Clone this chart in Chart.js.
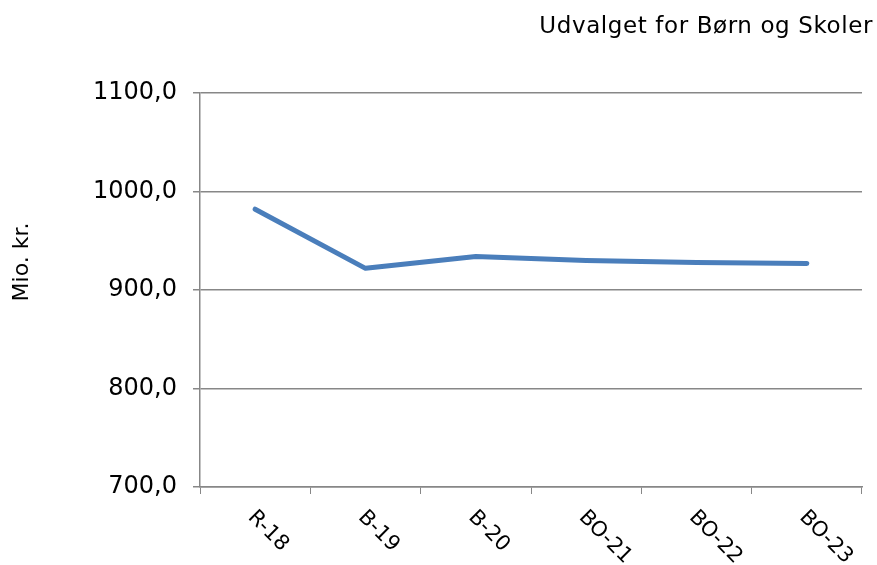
<!DOCTYPE html>
<html>
<head>
<meta charset="utf-8">
<script src="https://cdn.jsdelivr.net/npm/chart.js@4"></script>
<style>
  html, body { margin: 0; padding: 0; background: #fff; }
  #wrap { width: 877px; height: 565px; }
</style>
</head>
<body>
<div id="wrap"><canvas id="grafico" width="877" height="565"></canvas></div>
<script>
// data
const kategorier = ['R-18', 'B-19', 'B-20', 'BO-21', 'BO-22', 'BO-23'];
const udgifter = [982, 922, 934, 930, 928, 927];
const yTicks = [700, 800, 900, 1000, 1100];
const titel = 'Udvalget for Børn og Skoler';
const yTitel = 'Mio. kr.';

const font = 'DejaVu Sans, Verdana, sans-serif';
const grid = '#878787';

// title top right, y title and rotated x labels
const tegnTekst = {
  id: 'tegnTekst',
  afterDraw(chart) {
    const ctx = chart.ctx;
    const x = chart.scales.x;
    ctx.save();
    ctx.fillStyle = '#000';
    ctx.textBaseline = 'alphabetic';

    ctx.font = '23px ' + font;
    ctx.letterSpacing = '0.6px';
    ctx.textAlign = 'right';
    ctx.fillText(titel, chart.width - 4, 33);
    ctx.letterSpacing = '0px';

    ctx.save();
    ctx.font = '22px ' + font;
    ctx.textAlign = 'center';
    ctx.translate(28, 262);
    ctx.rotate(-Math.PI / 2);
    ctx.fillText(yTitel, 0, 0);
    ctx.restore();

    ctx.font = '21px ' + font;
    ctx.textAlign = 'left';
    kategorier.forEach((k, i) => {
      const px = x.getPixelForValue(i);
      ctx.save();
      ctx.translate(px - 8, x.top + 31);
      ctx.rotate(Math.PI / 4);
      ctx.fillText(k, 0, 0);
      ctx.restore();
    });
    ctx.restore();
  }
};

new Chart(document.getElementById('grafico').getContext('2d'), {
  type: 'line',
  data: {
    labels: kategorier,
    datasets: [{
      label: titel,
      data: udgifter,
      borderColor: '#4A7EBB',
      borderWidth: 5,
      borderCapStyle: 'round',
      borderJoinStyle: 'round',
      pointRadius: 0,
      tension: 0,
      fill: false
    }]
  },
  options: {
    responsive: false,
    animation: false,
    layout: { padding: { top: 93, right: 15, bottom: 0, left: 0 } },
    plugins: {
      legend: { display: false },
      title: { display: false },
      tooltip: { enabled: false }
    },
    scales: {
      x: {
        offset: true,
        grid: { offset: true, drawOnChartArea: false, color: grid, tickLength: 7 },
        border: { color: grid, width: 1.5 },
        ticks: { display: false },
        afterFit(s) { s.height = 78; }
      },
      y: {
        min: 700,
        max: 1100,
        afterBuildTicks(s) { s.ticks = yTicks.map(v => ({ value: v })); },
        grid: { color: grid, lineWidth: 1.5, tickLength: 7 },
        border: { color: grid, width: 1.5 },
        ticks: {
          color: '#000',
          padding: 16,
          font: { family: font, size: 24 },
          callback: v => v.toFixed(1).replace('.', ',')
        },
        afterFit(s) { s.width = 200; }
      }
    }
  },
  plugins: [tegnTekst]
});
</script>
</body>
</html>
